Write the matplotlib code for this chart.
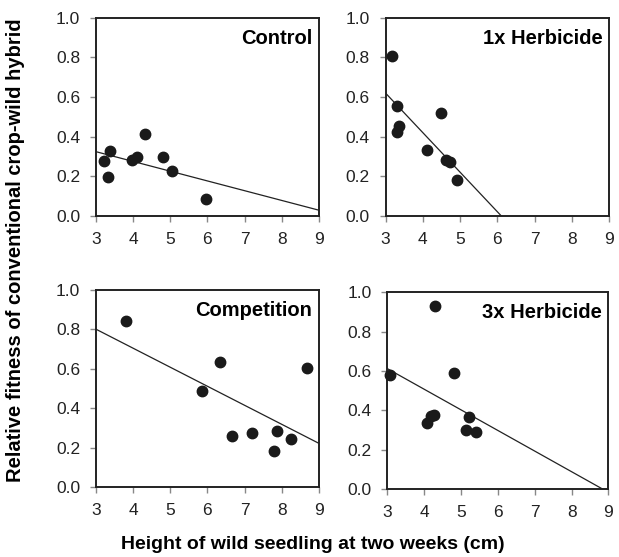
import numpy as np
import matplotlib.pyplot as plt

plt.rcParams['font.family'] = ['Liberation Sans', 'DejaVu Sans']

titles = ["Control", "1x Herbicide", "Competition", "3x Herbicide"]

control_x = [3.22, 3.33, 3.38, 3.96, 4.10, 4.32, 4.80, 5.04, 5.97]
control_y = [0.28, 0.196, 0.33, 0.283, 0.30, 0.416, 0.297, 0.226, 0.086]
control_line_x = [3.0, 9.0]
control_line_y = [0.325, 0.03]

herb1_x = [3.17, 3.30, 3.31, 3.37, 4.10, 4.49, 4.62, 4.74, 4.91]
herb1_y = [0.806, 0.556, 0.425, 0.452, 0.331, 0.519, 0.282, 0.272, 0.182]
herb1_line_x = [3.0, 6.11]
herb1_line_y = [0.62, 0.0]

comp_x = [3.82, 6.35, 5.86, 8.69, 6.65, 7.20, 7.88, 7.80, 8.26]
comp_y = [0.843, 0.633, 0.486, 0.605, 0.258, 0.277, 0.285, 0.184, 0.245]
comp_line_x = [3.0, 9.0]
comp_line_y = [0.80, 0.223]

herb3_x = [3.06, 4.30, 4.80, 4.08, 4.17, 4.26, 5.22, 5.13, 5.40]
herb3_y = [0.578, 0.929, 0.588, 0.336, 0.369, 0.375, 0.368, 0.298, 0.29]
herb3_line_x = [3.0, 8.84]
herb3_line_y = [0.612, 0.0]

xs = [control_x, herb1_x, comp_x, herb3_x]
ys = [control_y, herb1_y, comp_y, herb3_y]
lxs = [control_line_x, herb1_line_x, comp_line_x, herb3_line_x]
lys = [control_line_y, herb1_line_y, comp_line_y, herb3_line_y]

xticks = [3, 4, 5, 6, 7, 8, 9]
yticks = [0.0, 0.2, 0.4, 0.6, 0.8, 1.0]

fig = plt.figure(figsize=(6.19, 5.57), dpi=100)
boxes = [[0.155, 0.612, 0.360, 0.356],
         [0.623, 0.612, 0.361, 0.356],
         [0.155, 0.125, 0.360, 0.355],
         [0.626, 0.122, 0.357, 0.353]]

for i in range(4):
    ax = fig.add_axes(boxes[i])
    ax.plot(lxs[i], lys[i], color='#222222', lw=0.9, zorder=2)
    ax.plot(xs[i], ys[i], 'o', color='#1a1a1a', ms=7.5, zorder=3, clip_on=False)
    ax.set_xlim(3, 9)
    ax.set_ylim(0, 1)
    ax.set_xticks(xticks)
    ax.set_yticks(yticks)
    ax.set_yticklabels(["%.1f" % v for v in yticks])
    ax.tick_params(direction='out', length=4.3, width=1, color='#888888',
                   labelsize=12.5, labelcolor='#222222')
    ax.tick_params(axis='y', pad=7)
    ax.tick_params(axis='x', pad=7)
    for s in ax.spines.values():
        s.set_linewidth(1.4)
        s.set_color('#222222')
    ax.text(0.97, 0.945, titles[i], transform=ax.transAxes, ha='right', va='top',
            fontsize=14.5, fontweight='bold')

fig.text(0.025, 0.55, "Relative fitness of conventional crop-wild hybrid",
         rotation=90, ha='center', va='center', fontsize=14.5, fontweight='bold')
fig.text(0.505, 0.022, "Height of wild seedling at two weeks (cm)",
         ha='center', va='center', fontsize=14, fontweight='bold')

plt.savefig("out.png", dpi=100)
